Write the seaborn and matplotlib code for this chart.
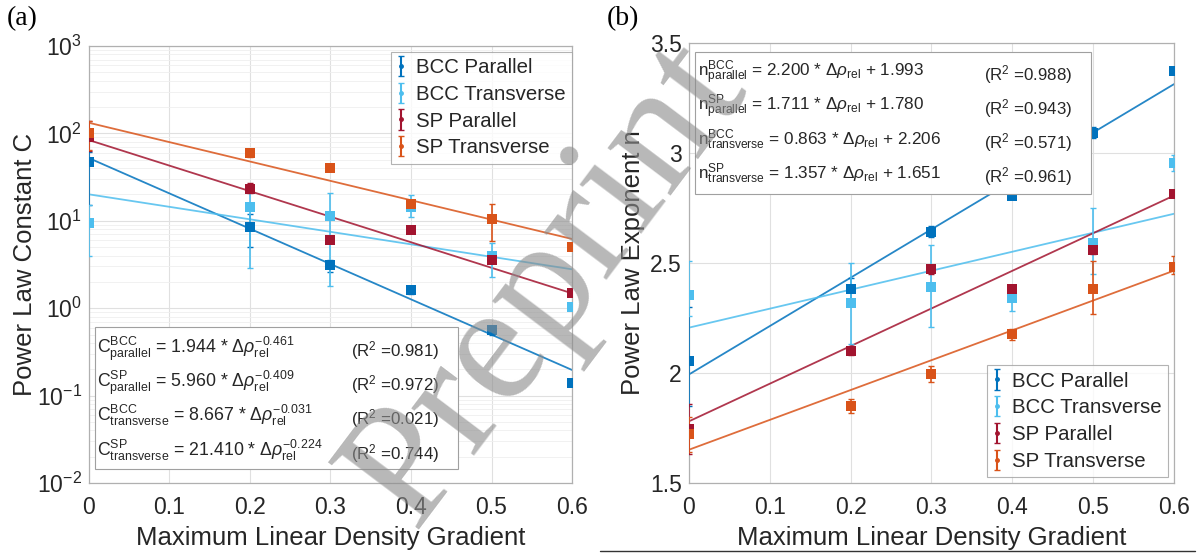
import numpy as np
import pandas as pd
import matplotlib
matplotlib.use("Agg")
import matplotlib.pyplot as plt
import seaborn as sns
from matplotlib.ticker import LogLocator, NullFormatter
from matplotlib.patches import Rectangle

# ---------------- data ----------------
x = [0.0, 0.2, 0.3, 0.4, 0.5, 0.6]
series = ["BCC Parallel", "BCC Transverse", "SP Parallel", "SP Transverse"]
colors = ["#0072BD", "#4DBEEE", "#A2142F", "#D95319"]

# panel (a): power law constant C
c_bcc_par = [47, 8.5, 3.1, 1.6, 0.56, 0.138]
c_bcc_par_lo = [15, 5.0, 2.6, 1.45, 0.50, 0.13]
c_bcc_par_hi = [62, 12, 3.6, 1.75, 0.62, 0.148]
c_bcc_tr = [9.5, 14.5, 11.4, 14.3, 4.0, 1.02]
c_bcc_tr_lo = [4.0, 2.9, 1.8, 11, 2.3, 0.95]
c_bcc_tr_hi = [15, 26, 21, 19.7, 5.6, 1.1]
c_sp_par = [90, 23.3, 6.0, 7.8, 3.6, 1.48]
c_sp_par_lo = [63, 21, 5.5, 7.2, 3.3, 1.4]
c_sp_par_hi = [140, 27, 6.6, 8.5, 3.9, 1.56]
c_sp_tr = [100, 59, 40.5, 15.7, 10.5, 4.98]
c_sp_tr_lo = [65, 53, 38, 14.5, 5.8, 4.7]
c_sp_tr_hi = [140, 66, 43, 17, 15.5, 5.3]
# fitted lines in (a): log10(C) at x=0 and x=0.6
c_fit_log_start = [1.718, 1.303, 1.924, 2.122]
c_fit_log_end = [-0.707, 0.445, 0.170, 0.792]

# panel (b): power law exponent n
n_bcc_par = [2.053, 2.38, 2.642, 2.805, 3.092, 3.373]
n_bcc_par_lo = [1.85, 2.33, 2.62, 2.79, 3.07, 3.36]
n_bcc_par_hi = [2.30, 2.43, 2.67, 2.82, 3.12, 3.39]
n_bcc_tr = [2.355, 2.317, 2.392, 2.339, 2.592, 2.953]
n_bcc_tr_lo = [2.26, 2.13, 2.21, 2.28, 2.45, 2.92]
n_bcc_tr_hi = [2.51, 2.50, 2.58, 2.39, 2.75, 2.99]
n_sp_par = [1.745, 2.10, 2.471, 2.382, 2.56, 2.812]
n_sp_par_lo = [1.63, 2.08, 2.45, 2.36, 2.54, 2.80]
n_sp_par_hi = [1.86, 2.12, 2.49, 2.40, 2.58, 2.83]
n_sp_tr = [1.723, 1.85, 1.997, 2.176, 2.382, 2.483]
n_sp_tr_lo = [1.64, 1.82, 1.96, 2.15, 2.27, 2.45]
n_sp_tr_hi = [1.80, 1.88, 2.03, 2.20, 2.51, 2.53]
# linear fits in (b) (order: BCC par, BCC tr, SP par, SP tr)
n_fit_slope = [2.200, 0.863, 1.711, 1.357]
n_fit_icpt = [1.993, 2.206, 1.780, 1.651]

# equation texts
eq_a = [
    (r"$\mathrm{C^{BCC}_{parallel}}$ = 1.944 * $\Delta\rho^{-0.461}_{\mathrm{rel}}$", "0.981"),
    (r"$\mathrm{C^{SP}_{parallel}}$ = 5.960 * $\Delta\rho^{-0.409}_{\mathrm{rel}}$", "0.972"),
    (r"$\mathrm{C^{BCC}_{transverse}}$ = 8.667 * $\Delta\rho^{-0.031}_{\mathrm{rel}}$", "0.021"),
    (r"$\mathrm{C^{SP}_{transverse}}$ = 21.410 * $\Delta\rho^{-0.224}_{\mathrm{rel}}$", "0.744"),
]
eq_b = [
    (r"$\mathrm{n^{BCC}_{parallel}}$ = 2.200 * $\Delta\rho_{\mathrm{rel}}$ + 1.993", "0.988"),
    (r"$\mathrm{n^{SP}_{parallel}}$ = 1.711 * $\Delta\rho_{\mathrm{rel}}$ + 1.780", "0.943"),
    (r"$\mathrm{n^{BCC}_{transverse}}$ = 0.863 * $\Delta\rho_{\mathrm{rel}}$ + 2.206", "0.571"),
    (r"$\mathrm{n^{SP}_{transverse}}$ = 1.357 * $\Delta\rho_{\mathrm{rel}}$ + 1.651", "0.961"),
]

# ---------------- style ----------------
sns.set_theme(style="white")
plt.rcParams["font.family"] = ["Liberation Sans", "DejaVu Sans"]
plt.rcParams["mathtext.fontset"] = "custom"
plt.rcParams["mathtext.rm"] = "Liberation Sans"
plt.rcParams["mathtext.it"] = "Liberation Sans:italic"
plt.rcParams["mathtext.bf"] = "Liberation Sans:bold"

TXT = "#262626"
fig = plt.figure(figsize=(12, 5.53), dpi=100)
W, H = 1200, 553
axA = fig.add_axes([88.8 / W, 1 - 483 / H, (572.1 - 88.8) / W, (483 - 46) / H])
axB = fig.add_axes([688.8 / W, 1 - 483 / H, (1174 - 688.8) / W, (483 - 43) / H])

a_vals = [(c_bcc_par, c_bcc_par_lo, c_bcc_par_hi), (c_bcc_tr, c_bcc_tr_lo, c_bcc_tr_hi),
          (c_sp_par, c_sp_par_lo, c_sp_par_hi), (c_sp_tr, c_sp_tr_lo, c_sp_tr_hi)]
b_vals = [(n_bcc_par, n_bcc_par_lo, n_bcc_par_hi), (n_bcc_tr, n_bcc_tr_lo, n_bcc_tr_hi),
          (n_sp_par, n_sp_par_lo, n_sp_par_hi), (n_sp_tr, n_sp_tr_lo, n_sp_tr_hi)]
xf = np.array([0.0, 0.6])


def draw_points(ax, vals):
    handles = []
    for i, (v, lo, hi) in enumerate(vals):
        v, lo, hi = np.array(v), np.array(lo), np.array(hi)
        ax.errorbar(x, v, yerr=[v - lo, hi - v], fmt="none", ecolor=colors[i],
                    elinewidth=1.2, capsize=2, capthick=1.0, zorder=3)
        df = pd.DataFrame({"x": x, "y": v})
        sns.scatterplot(data=df, x="x", y="y", ax=ax, marker="s", s=46,
                        color=colors[i], edgecolor=colors[i], linewidth=0, zorder=4)
        h = ax.errorbar([np.nan], [np.nan], yerr=[[1], [1]], fmt="o", ms=2.5,
                        color=colors[i], elinewidth=1.5, capsize=2, label=series[i])
        handles.append(h)
    return handles


def style_axes(ax, xlabel_y, ylabel_x):
    for s in ax.spines.values():
        s.set_color("#b0b0b0")
        s.set_linewidth(0.9)
    ax.tick_params(axis="x", which="major", labelsize=16.5, colors=TXT, length=0, pad=9)
    ax.tick_params(axis="y", which="major", labelsize=16.5, colors=TXT, length=0, pad=5)
    ax.tick_params(axis="both", which="minor", length=0)
    ax.set_axisbelow(True)
    ax.xaxis.set_label_coords(0.5, xlabel_y)
    ax.xaxis.label.set_va("center")
    ax.yaxis.set_label_coords(ylabel_x, 0.5)
    ax.yaxis.label.set_va("center")


# ---- panel (a)
for i in range(4):
    yfit = 10 ** np.array([c_fit_log_start[i], c_fit_log_end[i]])
    sns.lineplot(x=xf, y=yfit, ax=axA, color=colors[i], lw=1.3, zorder=2, alpha=0.85)
hA = draw_points(axA, a_vals)
axA.set_yscale("log")
axA.set_ylim(1e-2, 1e3)
axA.set_xlim(0, 0.6)
axA.set_xticks([0, 0.1, 0.2, 0.3, 0.4, 0.5, 0.6])
axA.set_xticklabels(["0", "0.1", "0.2", "0.3", "0.4", "0.5", "0.6"])
axA.yaxis.set_major_locator(LogLocator(base=10, numticks=10))
axA.yaxis.set_minor_locator(LogLocator(base=10, subs=np.arange(2, 10), numticks=20))
axA.yaxis.set_minor_formatter(NullFormatter())
axA.grid(True, which="major", color="#e0e0e0", lw=0.8)
axA.grid(True, which="minor", axis="y", color="#efefef", lw=0.6)
axA.set_xlabel("Maximum Linear Density Gradient", fontsize=18.5, color=TXT)
axA.set_ylabel("Power Law Constant C", fontsize=18.5, color=TXT)
style_axes(axA, -(537.5 - 483) / 437, -(88.8 - 25.5) / 483.3)
legA = axA.legend(handles=hA, loc="upper right", fontsize=14.7, frameon=True, fancybox=False,
                  edgecolor="#a0a0a0", handlelength=0.45, handletextpad=0.5,
                  borderpad=0.3, labelspacing=0.38, borderaxespad=0,
                  bbox_to_anchor=(0.9995, (483 - 52) / 437))
legA.get_frame().set_linewidth(0.8)

# ---- panel (b)
for i in range(4):
    yfit = n_fit_slope[i] * xf + n_fit_icpt[i]
    sns.lineplot(x=xf, y=yfit, ax=axB, color=colors[i], lw=1.3, zorder=2, alpha=0.85)
hB = draw_points(axB, b_vals)
axB.set_ylim(1.5, 3.5)
axB.set_xlim(0, 0.6)
axB.set_xticks([0, 0.1, 0.2, 0.3, 0.4, 0.5, 0.6])
axB.set_xticklabels(["0", "0.1", "0.2", "0.3", "0.4", "0.5", "0.6"])
axB.set_yticks([1.5, 2, 2.5, 3, 3.5])
axB.set_yticklabels(["1.5", "2", "2.5", "3", "3.5"])
axB.grid(True, which="major", color="#e0e0e0", lw=0.8)
axB.set_xlabel("Maximum Linear Density Gradient", fontsize=18.5, color=TXT)
axB.set_ylabel("Power Law Exponent n", fontsize=18.5, color=TXT)
style_axes(axB, -(537.5 - 483) / 440, -(688.8 - 633) / 485.2)
legB = axB.legend(handles=hB, loc="lower right", fontsize=14.7, frameon=True, fancybox=False,
                  edgecolor="#a0a0a0", handlelength=0.45, handletextpad=0.5,
                  borderpad=0.3, labelspacing=0.38, borderaxespad=0,
                  bbox_to_anchor=((1168 - 688.8) / 485.2, (483 - 477) / 440))
legB.get_frame().set_linewidth(0.8)

# ---- equation boxes
boxA = Rectangle((94.5 / W, 1 - 469 / H), (458 - 94.5) / W, (469 - 327) / H, transform=fig.transFigure,
                 facecolor="white", edgecolor="#a0a0a0", lw=0.8, zorder=5)
fig.add_artist(boxA)
baseA = [353, 387, 421, 456]
for (eq, r2), yy in zip(eq_a, baseA):
    fig.text(97 / W, 1 - yy / H, eq, fontsize=12.8, color=TXT, va="baseline", ha="left", zorder=6)
    fig.text(351 / W, 1 - (yy + 3) / H, r"(R$^2$ =" + r2 + ")", fontsize=12.2, color=TXT,
             va="baseline", ha="left", zorder=6)

boxB = Rectangle((694.9 / W, 1 - 194 / H), (1091 - 694.9) / W, (194 - 52) / H, transform=fig.transFigure,
                 facecolor="white", edgecolor="#a0a0a0", lw=0.8, zorder=5)
fig.add_artist(boxB)
baseB = [77, 111, 145, 179]
for (eq, r2), yy in zip(eq_b, baseB):
    fig.text(697.5 / W, 1 - yy / H, eq, fontsize=12.3, color=TXT, va="baseline", ha="left", zorder=6)
    fig.text(984 / W, 1 - (yy + 3) / H, r"(R$^2$ =" + r2 + ")", fontsize=12.2, color=TXT,
             va="baseline", ha="left", zorder=6)

# ---- panel labels
fig.text(7 / W, 1 - 19 / H, "(a)", fontsize=20, family="Liberation Serif", color="black", va="center")
fig.text(607 / W, 1 - 19 / H, "(b)", fontsize=20, family="Liberation Serif", color="black", va="center")

# bottom rule under panel (b)
fig.add_artist(plt.Line2D([600 / W, 1195 / W], [1 - 550.5 / H] * 2, transform=fig.transFigure,
                          color="#333333", lw=1.0))

# ---- watermark
fig.text(548 / W, 1 - 284 / H, "Preprint", fontsize=124, family="Liberation Serif",
         color="#8c8c8c", alpha=0.62, rotation=53, ha="center", va="center",
         rotation_mode="anchor", zorder=10)

fig.savefig("out.png", dpi=100)
